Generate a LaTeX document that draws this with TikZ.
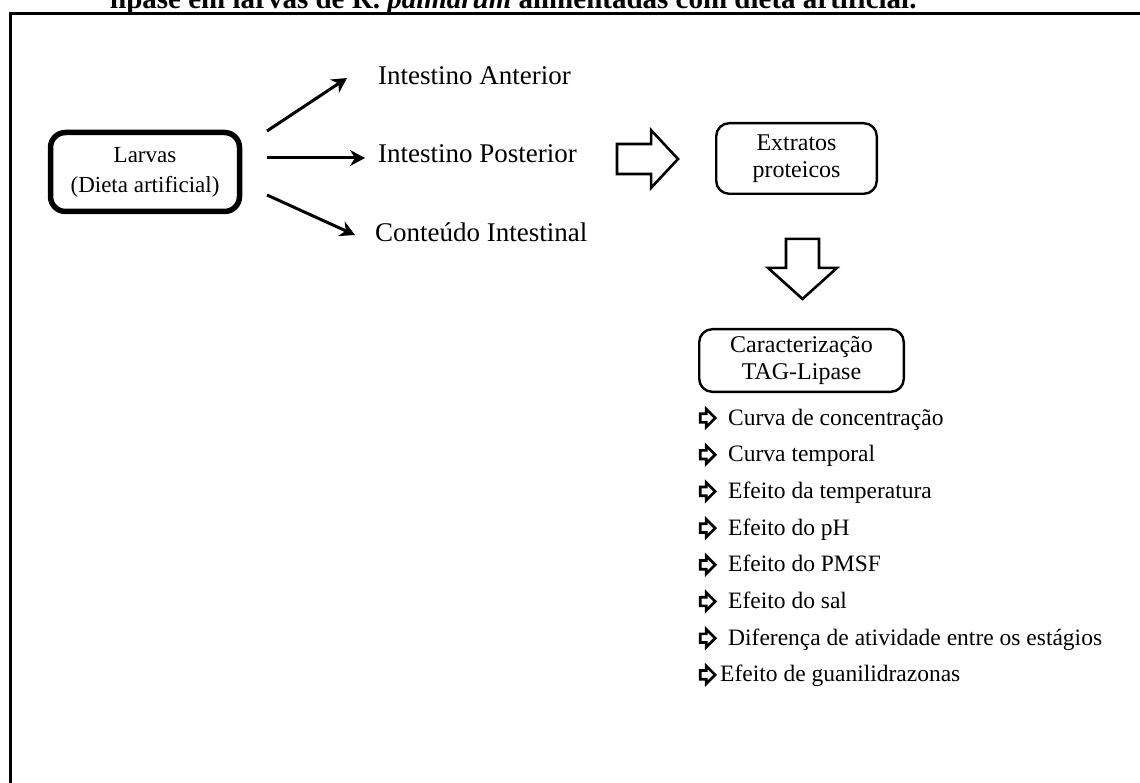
\documentclass[tikz,border=0pt]{standalone}
\usepackage{fontspec}
\setmainfont{Liberation Serif}
\usetikzlibrary{arrows.meta,positioning,shapes.arrows}

\begin{document}
\begin{tikzpicture}[x=1pt,y=-1pt,>={Stealth[length=15pt,width=16pt,inset=5pt]},
                    every node/.style={inner sep=0pt}]
  \tikzstyle{stepbox}=[draw,rounded corners=13pt,line width=2.4pt,align=center,
                       font=\fontsize{24}{27}\selectfont]
  \tikzstyle{organ}=[anchor=base west,font=\fontsize{27}{30}\selectfont]
  \tikzstyle{branch}=[->,line width=3pt]
  \tikzstyle{bigarrow}=[single arrow,draw,line width=2.6pt,single arrow head indent=0pt]
  \tikzstyle{item}=[anchor=base west,font=\fontsize{23.5}{26}\selectfont]
  \tikzstyle{bullet}=[single arrow,draw,line width=2.7pt,minimum height=15pt,
                      inner sep=3pt,single arrow head extend=4.6pt,single arrow tip angle=90]

  \useasboundingbox (0,0) rectangle (1140,783);
  \clip (0,0) rectangle (1140,783);

  % heading of the figure, cut at the top
  \node[anchor=base west,font=\fontsize{29}{32}\selectfont\bfseries] (title) at (110,9)
       {lipase em larvas de R. \textit{palmarum} alimentadas com dieta artificial.};
  \draw[line width=3pt] (10.5,800) -- (10.5,14) -- (1160,14);

  \node[stepbox,line width=5.5pt,rounded corners=15pt,minimum width=189pt,minimum height=79pt,
        font=\fontsize{23}{30}\selectfont] (larvas) at (145,172) {Larvas\\(Dieta artificial)};

  \node[organ] (ant)  at (378,85)  {Intestino Anterior};
  \node[organ] (post) at (378,163) {Intestino Posterior};
  \node[organ] (cont) at (375,242) {Conteúdo Intestinal};

  \coordinate (s1) at (267,131);
  \coordinate (t1) at (347,78);
  \coordinate (s2) at (267,158);
  \coordinate (s3) at (267,195);
  \coordinate (t3) at (355,235);

  \draw[branch] (s1) -- (t1);
  \draw[branch,shorten >=13pt] (s2) -- (s2 -| post.west);
  \draw[branch] (s3) -- (t3);

  \node[bigarrow,minimum height=61pt,inner sep=13.7pt,single arrow head extend=13.8pt,
        single arrow tip angle=94] (toext) at (640.5,159) {};
  \node[stepbox,minimum width=160.6pt,minimum height=70.6pt] (extr) at (796.5,158.5)
       {Extratos\\proteicos};

  \node[bigarrow,shape border rotate=270,minimum height=60pt,inner sep=15.2pt,
        single arrow head extend=18pt,single arrow tip angle=96] (tocar) at (802.5,261.5) {};
  \node[stepbox,minimum width=204.6pt,minimum height=62.6pt] (carac) at (801.5,360.5)
       {Caracterização\\TAG-Lipase};

  % assays done on the extracts
  \foreach \txt/\dx [count=\i from 0] in {Curva de concentração/0, Curva temporal/0,
      Efeito da temperatura/0, Efeito do pH/0, Efeito do PMSF/0, Efeito do sal/0,
      Diferença de atividade entre os estágios/0, Efeito de guanilidrazonas/-8} {
    \node[bullet] (b\i) at (705.5,418+36.7*\i) {};
    \node[item] (a\i) at (728+\dx,425+36.7*\i) {\txt};
  }
\end{tikzpicture}
\end{document}
